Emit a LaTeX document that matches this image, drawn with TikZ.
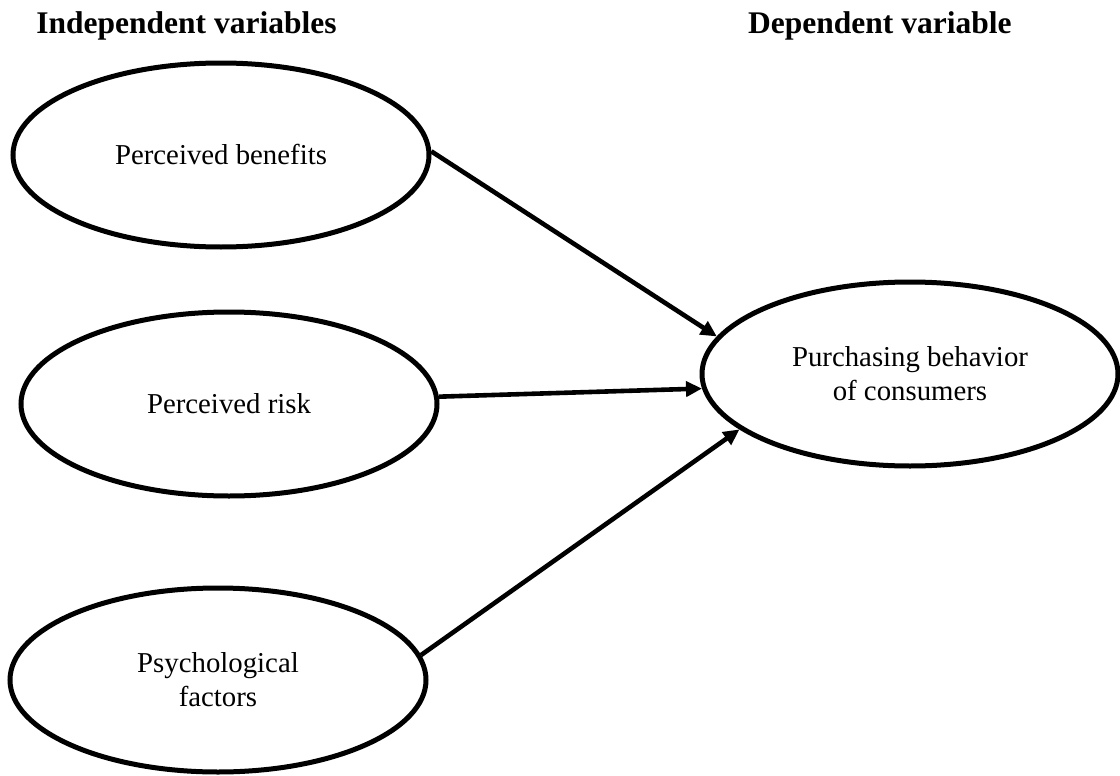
\documentclass[tikz,border=0pt]{standalone}
\usepackage{fontspec}
\setmainfont{Liberation Serif}
\usetikzlibrary{arrows.meta, shapes.geometric, positioning}

\begin{document}
\begin{tikzpicture}[x=0.5pt, y=-0.5pt]
	\tikzset {>={Triangle[length=8pt, width=7.5pt]}, var/.style={ellipse, draw, line width=2.5pt, minimum width=208pt, minimum height=92pt, inner sep=0pt, align=center, font=\fontsize{14.4}{17}\selectfont}, heading/.style={inner sep=0pt, font=\fontsize{15.75}{19}\selectfont\bfseries} }

	\useasboundingbox (0,0) rectangle (1120,776);

	\node[heading, anchor=base west] (hind) at (36,33) {Independent variables};
	\node[heading, anchor=base east] (hdep) at (1012,33) {Dependent variable};

	\node[var] (ben) at (221,155) {Perceived benefits};
	\node[var] (risk) at (229,404) {Perceived risk};
	\node[var] (psy) at (218,680) {Psychological\\factors};
	\node[var] (buy) at (910,374) {Purchasing behavior\\of consumers};

	\path[->, line width=2.3pt]
		(ben.1) edge (buy.169)
		(risk.2) edge (buy.184)
		(psy.7) edge (buy.198);
\end{tikzpicture}
\end{document}
